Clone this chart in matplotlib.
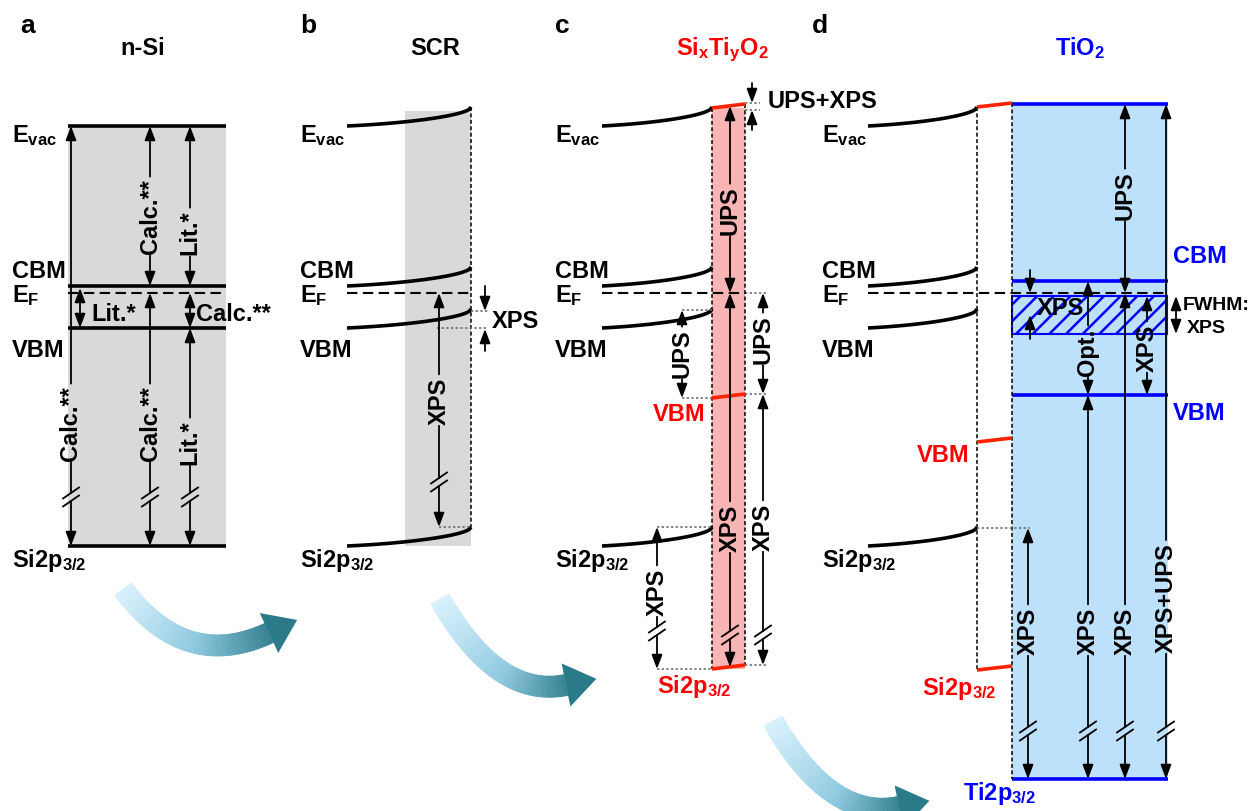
import numpy as np
import matplotlib
matplotlib.use('Agg')
import matplotlib.pyplot as plt
from matplotlib.collections import PolyCollection
from matplotlib.colors import LinearSegmentedColormap
from matplotlib.patches import Rectangle, Polygon

plt.rcParams['font.family'] = ['Liberation Sans', 'DejaVu Sans']
plt.rcParams['font.weight'] = 'bold'
plt.rcParams['mathtext.fontset'] = 'custom'
plt.rcParams['mathtext.rm'] = 'Liberation Sans:bold'
plt.rcParams['mathtext.it'] = 'Liberation Sans:bold'
plt.rcParams['mathtext.bf'] = 'Liberation Sans:bold'
plt.rcParams['hatch.linewidth'] = 1.8

# level positions of the schematic (pixel rows, top = 0)
level_names = ['E$_{vac}$', 'CBM', 'E$_{F}$', 'VBM', 'Si2p$_{3/2}$']
level_text_y = [142, 278, 302, 357, 567]
si_y = [127, 287, 294, 329, 547]        # n-Si bulk: Evac, CBM, EF, VBM, Si2p
bend = 19                               # upward band bending at the surface
sitio_c_y = [109, 399, 670]             # SixTiyO2 (panel c): Evac, VBM, Si2p
sitio_d_y = [108, 443, 671]             # SixTiyO2 (panel d): Evac, VBM, Si2p
tilt = 4
tio2_y = [105, 282, 396, 780]           # TiO2: Evac, CBM, VBM, Ti2p
fwhm_y = [297, 335]

GRAY = '#d9d9d9'
PINK = '#f9b4b4'
LBLUE = '#bde0fb'
RED = '#ff2200'
BLUE = '#0000ff'

fig = plt.figure(figsize=(12.52, 8.12), dpi=100)
ax = fig.add_axes([0, 0, 1, 1])
ax.set_xlim(0, 1252)
ax.set_ylim(812, 0)
ax.axis('off')
renderer = fig.canvas.get_renderer()

FS = 17


def arrow_piece(x, y_from, y_to, style, color='k'):
    ax.annotate('', xy=(x, y_to), xytext=(x, y_from),
                arrowprops=dict(arrowstyle=style + ',head_length=0.85,head_width=0.32',
                                color=color, lw=1.3, shrinkA=0, shrinkB=0,
                                mutation_scale=10))


def varrow(x, top, bot, label=None, ly=None, brk=None, up=True, down=True, color='k'):
    gaps = []
    if label:
        t = ax.text(x, ly, label, rotation=90, ha='center', va='center',
                    fontsize=FS, color=color)
        bb = t.get_window_extent(renderer)
        gaps.append((ly - bb.height / 2 - 2, ly + bb.height / 2 + 2))
    if brk is not None:
        gaps.append((brk - 4, brk + 4))
        for yy in (brk - 4, brk + 4):
            ax.plot([x - 8, x + 8], [yy + 5.5, yy - 5.5], color=color, lw=1.3)
    gaps.sort()
    pieces = []
    start = top
    for g0, g1 in gaps:
        pieces.append((start, g0))
        start = g1
    pieces.append((start, bot))
    n = len(pieces)
    for i, (a, b) in enumerate(pieces):
        ht = up and i == 0
        hb = down and i == n - 1
        if ht and hb:
            arrow_piece(x, a, b, '<|-|>', color)
        elif ht:
            arrow_piece(x, b, a, '-|>', color)
        elif hb:
            arrow_piece(x, a, b, '-|>', color)
        else:
            ax.plot([x, x], [a, b], color=color, lw=1.3)


def bent(x0, x1, y, d=bend, lw=2.6):
    t = np.linspace(0, 1, 80)
    ys = y - d * (0.3 * t + 0.7 * (1 - np.sqrt(1 - t ** 2)))
    ax.plot(x0 + (x1 - x0) * t, ys, color='k', lw=lw, solid_capstyle='butt')


def hline(x0, x1, y, color='k', lw=2.6):
    ax.plot([x0, x1], [y, y], color=color, lw=lw, solid_capstyle='butt')


def ef_line(x0, x1, y):
    ax.plot([x0, x1], [y, y], color='k', lw=1.5, ls=(0, (5, 2.6)))


def dashed_v(x, y0, y1):
    ax.plot([x, x], [y0, y1], color='k', lw=1.1, ls=(0, (2.6, 1.6)))


def dotted(x0, x1, y):
    ax.plot([x0, x1], [y, y], color='#6f6f6f', lw=1.2, ls=(0, (1.4, 1.4)))


def level_labels(x, color='k'):
    for name, yb in zip(level_names, level_text_y):
        ax.text(x, yb, name, fontsize=FS, va='baseline', ha='left', color=color)


def small_arrow(x, y_from, y_to):
    arrow_piece(x, y_from, y_to, '-|>')


cmap = LinearSegmentedColormap.from_list('sw', ['#d8f1fc', '#8fc9e0', '#2b7a89'])


def swoosh(p0, p1, p2, width=21, head_len=31, head_w=44):
    p0, p1, p2 = map(np.asarray, (p0, p1, p2))
    t = np.linspace(0, 1, 90)[:, None]
    pts = (1 - t) ** 2 * p0 + 2 * (1 - t) * t * p1 + t ** 2 * p2
    tan = 2 * (1 - t) * (p1 - p0) + 2 * t * (p2 - p1)
    tan = tan / np.linalg.norm(tan, axis=1, keepdims=True)
    nor = np.column_stack([-tan[:, 1], tan[:, 0]])
    left = pts + nor * width / 2
    right = pts - nor * width / 2
    polys = [[left[i], left[i + 1], right[i + 1], right[i]] for i in range(len(pts) - 1)]
    cols = cmap(np.linspace(0, 0.93, len(polys)))
    ax.add_collection(PolyCollection(polys, facecolors=cols, edgecolors=cols, lw=0.6, zorder=1))
    tip = pts[-1] + tan[-1] * head_len
    c1 = pts[-1] + nor[-1] * head_w / 2
    c2 = pts[-1] - nor[-1] * head_w / 2
    ax.add_patch(Polygon([c1, tip, c2], closed=True, color=cmap(1.0), lw=0, zorder=1))


# ---------------- panel a: n-Si ----------------
ax.text(20, 33, 'a', fontsize=19, va='baseline')
ax.text(143, 55, 'n-Si', fontsize=17, ha='center', va='baseline')
ax.add_patch(Rectangle((68, si_y[0]), 226 - 68, si_y[4] - si_y[0], color=GRAY, lw=0, zorder=0))
for k in (0, 1, 3, 4):
    hline(68, 226, si_y[k])
ef_line(68, 222, si_y[2])
level_labels(12)
varrow(71, si_y[0], si_y[4], 'Calc.**', 424, brk=498)
varrow(150, si_y[0], si_y[1], 'Calc.**', 217)
varrow(150, si_y[2], si_y[4], 'Calc.**', 424, brk=498)
varrow(190, si_y[0], si_y[1], 'Lit.*', 233)
varrow(190, si_y[2], si_y[3])
varrow(190, si_y[3], si_y[4], 'Lit.*', 443, brk=498)
varrow(80, si_y[1] + 2, si_y[3])
ax.text(91, 321, 'Lit.*', fontsize=FS, va='baseline')
ax.text(196, 321, 'Calc.**', fontsize=FS, va='baseline')

# ---------------- panel b: SCR ----------------
ax.text(300, 33, 'b', fontsize=19, va='baseline')
ax.text(435, 55, 'SCR', fontsize=17, ha='center', va='baseline')
ax.add_patch(Rectangle((405, 112), 471 - 405, si_y[4] - 112, color=GRAY, lw=0, zorder=0))
for k in (0, 1, 3, 4):
    bent(347, 471, si_y[k])
ef_line(347, 471, si_y[2])
dashed_v(471, si_y[0] - bend, si_y[4] - bend)
level_labels(300)
dotted(439, 471, si_y[4] - bend)
dotted(471, 488, si_y[3] - bend + 2)
dotted(437, 488, si_y[3])
varrow(439, si_y[2], si_y[4] - bend, 'XPS', 401, brk=483)
small_arrow(485, 287, si_y[3] - bend + 2)
small_arrow(485, 352, si_y[3] + 1)
ax.text(492, 328, 'XPS', fontsize=FS, va='baseline')

# ---------------- panel c: SixTiyO2 ----------------
ax.text(555, 33, 'c', fontsize=19, va='baseline')
ax.text(722, 55, 'Si$_{x}$Ti$_{y}$O$_{2}$', fontsize=17, ha='center', va='baseline', color='#ff0000')
ax.add_patch(Rectangle((712, sitio_c_y[0]), 745 - 712, sitio_c_y[2] - sitio_c_y[0], color=PINK, lw=0, zorder=0))
for k in (0, 1, 3, 4):
    bent(602, 712, si_y[k])
ef_line(602, 745, si_y[2])
dotted(745, 766, si_y[2])
dashed_v(712, sitio_c_y[0], sitio_c_y[2])
dashed_v(745, sitio_c_y[0] - tilt, sitio_c_y[2] - tilt)
for yv in sitio_c_y:
    ax.plot([712, 745], [yv, yv - tilt], color=RED, lw=2.6, solid_capstyle='butt')
level_labels(555)
dotted(682, 712, si_y[3] - bend + 1)
dotted(682, 712, sitio_c_y[1])
dotted(745, 766, sitio_c_y[1] - tilt)
dotted(657, 712, si_y[4] - bend)
dotted(657, 712, sitio_c_y[2])
dotted(745, 766, sitio_c_y[2] - tilt)
dotted(745, 760, sitio_c_y[0] - tilt - 1)
dotted(745, 760, sitio_c_y[0] + 2)
varrow(730, sitio_c_y[0] - 2, si_y[2], 'UPS', 211)
varrow(730, si_y[2], sitio_c_y[2] - 2, 'XPS', 528, brk=636)
varrow(763, si_y[2], sitio_c_y[1] - tilt, 'UPS', 340)
varrow(763, sitio_c_y[1] - tilt, sitio_c_y[2] - tilt, 'XPS', 527, brk=636)
varrow(682, si_y[3] - bend + 1, sitio_c_y[1], 'UPS', 354)
varrow(657, si_y[4] - bend, sitio_c_y[2], 'XPS', 592, brk=632)
small_arrow(752, 84, sitio_c_y[0] - tilt - 1)
small_arrow(752, 131, sitio_c_y[0] + 2)
ax.text(768, 108, 'UPS+XPS', fontsize=FS, va='baseline')
ax.text(653, 421, 'VBM', fontsize=FS, va='baseline', color='#ff0000')
ax.text(657, 693, 'Si2p$_{3/2}$', fontsize=FS, va='baseline', color='#ff0000')

# ---------------- panel d: TiO2 ----------------
ax.text(812, 33, 'd', fontsize=19, va='baseline')
ax.text(1080, 55, 'TiO$_{2}$', fontsize=17, ha='center', va='baseline', color=BLUE)
ax.add_patch(Rectangle((1012, tio2_y[0]), 1168 - 1012, tio2_y[3] - tio2_y[0], color=LBLUE, lw=0, zorder=0))
ax.add_patch(Rectangle((1012, fwhm_y[0]), 1167 - 1012, fwhm_y[1] - fwhm_y[0], facecolor='none',
                       edgecolor=BLUE, hatch='//', lw=1.5, zorder=1))
for k in (0, 1, 3, 4):
    bent(868, 977, si_y[k])
ef_line(868, 1168, si_y[2])
for yv in tio2_y:
    hline(1012, 1168, yv, color=BLUE)
dashed_v(977, sitio_d_y[0], sitio_d_y[2])
dashed_v(1012, sitio_d_y[0] - tilt, tio2_y[3])
for yv in sitio_d_y:
    ax.plot([977, 1012], [yv, yv - tilt], color=RED, lw=2.6, solid_capstyle='butt')
level_labels(822)
dotted(977, 1030, si_y[4] - bend + 1)
small_arrow(1030, 271, si_y[2])
small_arrow(1030, 340, 316)
ax.text(1037, 315, 'XPS', fontsize=FS, va='baseline')
varrow(1088, tio2_y[1], tio2_y[2], 'Opt.', 352)
varrow(1088, tio2_y[2], tio2_y[3], 'XPS', 631, brk=732)
varrow(1125, tio2_y[0], si_y[2], 'UPS', 196)
varrow(1125, si_y[2], tio2_y[3], 'XPS', 631, brk=732)
varrow(1147, fwhm_y[0], tio2_y[2], 'XPS', 348)
varrow(1166, tio2_y[0], tio2_y[3], 'XPS+UPS', 598, brk=732)
varrow(1028, si_y[4] - bend + 1, tio2_y[3], 'XPS', 631, brk=732)
varrow(1176, fwhm_y[0], fwhm_y[1])
ax.text(1183, 310, 'FWHM:', fontsize=14, va='baseline')
ax.text(1187, 333, 'XPS', fontsize=14, va='baseline')
ax.text(1173, 263, 'CBM', fontsize=FS, va='baseline', color=BLUE)
ax.text(1173, 420, 'VBM', fontsize=FS, va='baseline', color=BLUE)
ax.text(917, 462, 'VBM', fontsize=FS, va='baseline', color='#ff0000')
ax.text(922, 695, 'Si2p$_{3/2}$', fontsize=FS, va='baseline', color='#ff0000')
ax.text(963, 800, 'Ti2p$_{3/2}$', fontsize=FS, va='baseline', color=BLUE)

# ---------------- curved transition arrows ----------------
swoosh((123, 590), (185, 673), (269, 634))
swoosh((440, 600), (497, 700), (566, 686))
swoosh((773, 722), (830, 822), (899, 808))

fig.savefig('out.png', dpi=100)
